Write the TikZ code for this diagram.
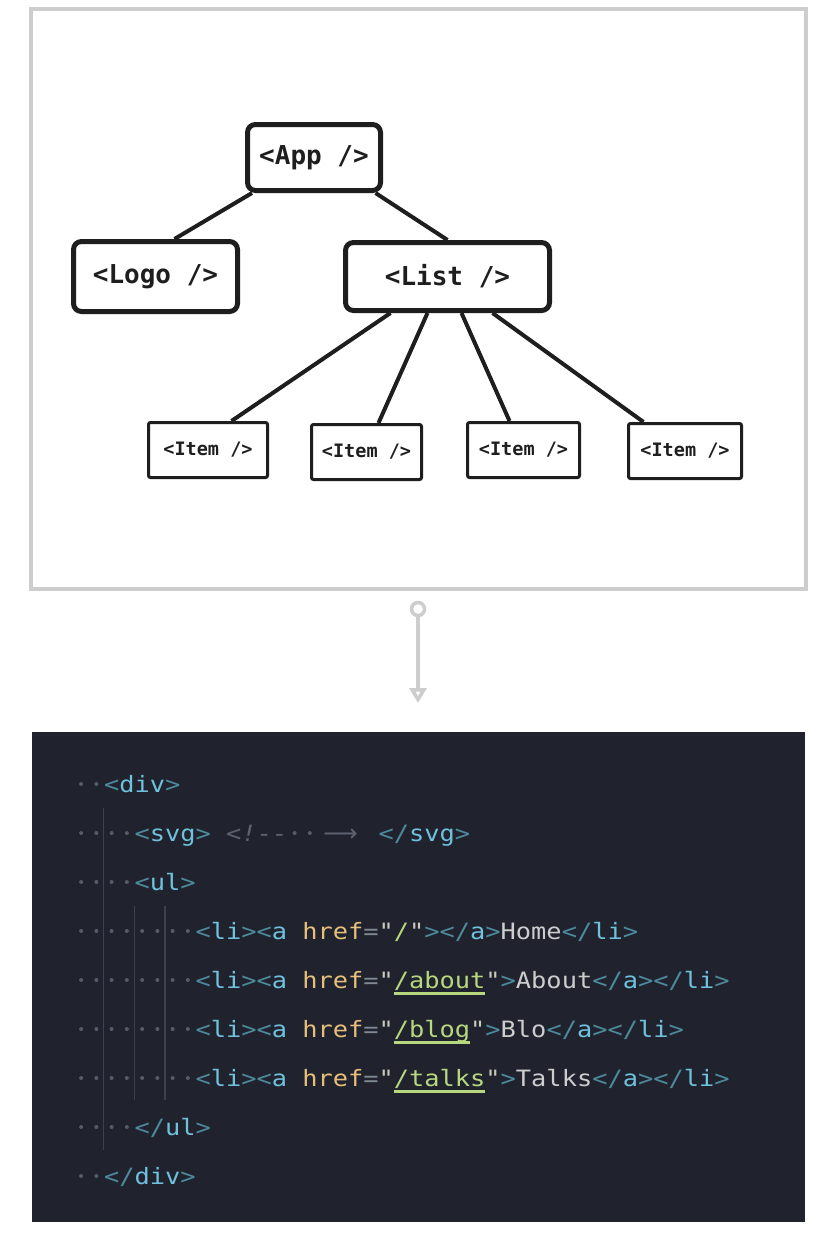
\documentclass[tikz,border=0pt]{standalone}
\usepackage{fontspec}
\setmonofont{DejaVu Sans Mono}[FakeStretch=1.126]
\newfontfamily\treefont{DejaVu Sans Mono}
\newfontfamily\arrowfont{DejaVu Sans}
\usetikzlibrary{arrows.meta}
\definecolor{panelbg}{HTML}{20232E}
\definecolor{framegray}{HTML}{CDCDCD}
\definecolor{ink}{HTML}{1E1E1E}
\definecolor{punct}{HTML}{4D8B9C}
\definecolor{tagc}{HTML}{6FC1DC}
\definecolor{attrc}{HTML}{E6C07B}
\definecolor{eqc}{HTML}{7F8A94}
\definecolor{quotec}{HTML}{C9C9BD}
\definecolor{strc}{HTML}{B8D880}
\definecolor{txtc}{HTML}{CDCDCD}
\definecolor{commc}{HTML}{5C6270}
\definecolor{dotc}{HTML}{555B68}
\definecolor{guidec}{HTML}{3C414D}
\newcommand\Pu[1]{\textcolor{punct}{#1}}
\newcommand\Tg[1]{\textcolor{tagc}{#1}}
\newcommand\At[1]{\textcolor{attrc}{#1}}
\newcommand\Eq[1]{\textcolor{eqc}{#1}}
\newcommand\Qu[1]{\textcolor{quotec}{#1}}
\newcommand\St[1]{\textcolor{strc}{#1}}
\newcommand\Tx[1]{\textcolor{txtc}{#1}}
\tikzset{
  bigbox/.style={draw=ink, fill=white, line width=5pt, rounded corners=8pt, inner sep=0pt,
    font=\treefont\bfseries\fontsize{26}{26}\selectfont, text=ink},
  itembox/.style={draw=ink, fill=white, line width=3pt, rounded corners=2pt, inner sep=0pt,
    minimum height=55pt, font=\treefont\bfseries\fontsize{18.5}{18.5}\selectfont, text=ink},
  edge/.style={draw=ink, line width=4pt},
  codeline/.style={anchor=base west, inner sep=0pt, font=\ttfamily\fontsize{22.5}{22.5}\selectfont},
  wsdot/.style={fill=dotc, draw=none},
  guide/.style={draw=guidec, line width=1.5pt},
}
\begin{document}
\begin{tikzpicture}[x=1pt,y=-1pt]
\useasboundingbox (0,0) rectangle (837,1234);
\fill[white] (0,0) rectangle (837,1234);
% top frame
\draw[framegray, line width=4pt] (31,9) rectangle (806,589);
% tree nodes
\node[bigbox, minimum width=133pt, minimum height=66pt] (App) at (314,157.5) {<App />};
\node[bigbox, minimum width=164pt, minimum height=70pt] (Logo) at (155.5,276.5) {<Logo />};
\node[bigbox, minimum width=204pt, minimum height=68pt] (List) at (447.5,276.5) {<List />};
\node[itembox, minimum width=119pt] (I1) at (208,450) {<Item />};
\node[itembox, minimum width=110pt] (I2) at (366.5,452) {<Item />};
\node[itembox, minimum width=112pt] (I3) at (523.5,450) {<Item />};
\node[itembox, minimum width=113pt] (I4) at (685,451) {<Item />};
% edges
\draw[edge] ([xshift=7pt]App.south west) -- ([xshift=103.5pt]Logo.north west);
\draw[edge] ([xshift=-7.5pt]App.south east) -- (List.north);
\draw[edge] ([xshift=47.5pt]List.south west) -- ([xshift=84.5pt]I1.north west);
\draw[edge] ([xshift=84.5pt]List.south west) -- ([xshift=68.5pt]I2.north west);
\draw[edge] ([xshift=118.5pt]List.south west) -- ([xshift=43.5pt]I3.north west);
\draw[edge] ([xshift=149.5pt]List.south west) -- ([xshift=16.5pt]I4.north west);
% connector arrow
\node[circle, draw=framegray, line width=3.5pt, minimum size=13pt, inner sep=0pt] (ring) at (418,609) {};
\coordinate (tip) at (418,703);
\draw[framegray, line width=3.5pt, -{Triangle[open, length=15pt, width=17pt]}] (ring) -- (tip);
% code panel
\fill[panelbg] (32,732) rectangle (805,1222);
% indent guides
\draw[guide] (103.5,808) -- (103.5,1150);
\draw[guide] (134.5,906) -- (134.5,1100);
\draw[guide] (165,906) -- (165,1100);
% whitespace dots
\foreach \yy/\n in {784/2,833/4,882/4,931/8,980/8,1029/8,1078/8,1127/4,1176/2}{
  \pgfmathtruncatemacro\last{\n-1}
  \foreach \c in {0,...,\last}{
    \fill[wsdot] (81.1+15.25*\c,\yy) circle[radius=2pt];
  }
}
\foreach \c in {14,15}{\fill[wsdot] (81.1+15.25*\c,833) circle[radius=2pt];}
% code lines
\node[codeline] (L0) at (104,792.5) {\Pu{<}\Tg{div}\Pu{>}};
\node[codeline] (L1a) at (134.5,841.5) {\Pu{<}\Tg{svg}\Pu{>}};
\node[codeline, text=commc] (L1b) at (226,841.5) {\textit{<!}-{}-};
\node[codeline, text=commc] (L1c) at (317.5,841.5) {\makebox[45.75pt]{\arrowfont\fontsize{24}{24}\selectfont ⟶}};
\node[codeline] (L1d) at (378.5,841.5) {\Pu{</}\Tg{svg}\Pu{>}};
\node[codeline] (L2) at (134.5,890.5) {\Pu{<}\Tg{ul}\Pu{>}};
\node[codeline] (L3a) at (195.5,939.5) {\Pu{<}\Tg{li}\Pu{><}\Tg{a}};
\node[codeline] (L3b) at (302.25,939.5) {\At{href}\Eq{=}\Qu{"}\St{/}\Qu{"}\Pu{></}\Tg{a}\Pu{>}\Tx{Home}\Pu{</}\Tg{li}\Pu{>}};
\node[codeline] (L4a) at (195.5,988.5) {\Pu{<}\Tg{li}\Pu{><}\Tg{a}};
\node[codeline] (L4b) at (302.25,988.5) {\At{href}\Eq{=}\Qu{"}\St{/about}\Qu{"}\Pu{>}\Tx{About}\Pu{</}\Tg{a}\Pu{></}\Tg{li}\Pu{>}};
\node[codeline] (L5a) at (195.5,1037.5) {\Pu{<}\Tg{li}\Pu{><}\Tg{a}};
\node[codeline] (L5b) at (302.25,1037.5) {\At{href}\Eq{=}\Qu{"}\St{/blog}\Qu{"}\Pu{>}\Tx{Blo}\Pu{</}\Tg{a}\Pu{></}\Tg{li}\Pu{>}};
\node[codeline] (L6a) at (195.5,1086.5) {\Pu{<}\Tg{li}\Pu{><}\Tg{a}};
\node[codeline] (L6b) at (302.25,1086.5) {\At{href}\Eq{=}\Qu{"}\St{/talks}\Qu{"}\Pu{>}\Tx{Talks}\Pu{</}\Tg{a}\Pu{></}\Tg{li}\Pu{>}};
\node[codeline] (L7) at (134.5,1135.5) {\Pu{</}\Tg{ul}\Pu{>}};
\node[codeline] (L8) at (104,1184.5) {\Pu{</}\Tg{div}\Pu{>}};
% underlines
\draw[strc, line width=2.5pt] (393.75,993.5) -- (485.25,993.5);
\draw[strc, line width=2.5pt] (393.75,1042.5) -- (470,1042.5);
\draw[strc, line width=2.5pt] (393.75,1091.5) -- (485.25,1091.5);
\end{tikzpicture}
\end{document}
